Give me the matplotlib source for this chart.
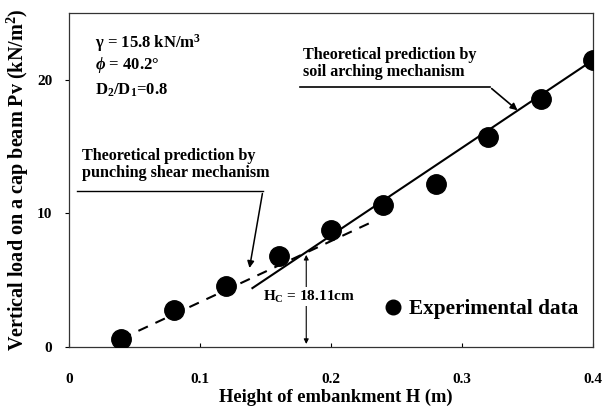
import matplotlib.pyplot as plt
from matplotlib.lines import Line2D

# experimental data
height = [0.04, 0.08, 0.12, 0.16, 0.20, 0.24, 0.28, 0.32, 0.36, 0.40]
load = [0.55, 2.75, 4.55, 6.8, 8.75, 10.65, 12.2, 15.7, 18.6, 21.5]

# theoretical lines
arch_h = [0.14, 0.40]
arch_p = [4.4, 21.5]
punch_h = [0.04, 0.23]
punch_p = [0.6, 9.3]

hc = 0.1811
hc_p = 7.1

xticks = [0, 0.1, 0.2, 0.3, 0.4]
xticklabels = ["0", "0.1", "0.2", "0.3", "0.4"]
yticks = [0, 10, 20]

plt.rcParams["font.family"] = ["Liberation Serif", "DejaVu Serif"]
plt.rcParams["font.weight"] = "bold"
plt.rcParams["mathtext.fontset"] = "custom"
plt.rcParams["mathtext.rm"] = "Liberation Serif:bold"
plt.rcParams["mathtext.it"] = "Liberation Serif:bold:italic"
plt.rcParams["mathtext.bf"] = "Liberation Serif:bold"

fig = plt.figure(figsize=(6.14, 4.07), dpi=100)
ax = fig.add_axes([0.1124, 0.148, 0.8534, 0.819])

ax.plot(arch_h, arch_p, color="black", lw=1.5)
ax.plot(punch_h, punch_p, color="black", lw=1.5, ls=(0, (5, 4)))
ax.plot(height, load, "o", color="black", ms=14, zorder=5)

ax.set_xlim(0, 0.4)
ax.set_ylim(0, 25)
ax.set_xticks(xticks)
ax.set_xticklabels(xticklabels)
ax.set_yticks(yticks)
ax.tick_params(axis="x", direction="in", length=3, pad=19, labelsize=11)
ax.tick_params(axis="y", direction="out", length=3, pad=9, labelsize=11)
for s in ax.spines.values():
    s.set_linewidth(0.9)
    s.set_color("#333333")

ax.set_xlabel("Height of embankment H (m)", fontsize=13.3, fontweight="bold")
ax.xaxis.set_label_coords(0.51, -0.125)
ax.set_ylabel("Vertical load on a cap beam Pv (kN/m$^2$)", fontsize=14.5, fontweight="bold")
ax.yaxis.set_label_coords(-0.072, 0.5)

# parameter box
ax.text(0.02, 22.8, "γ = 15.8 kN/m$^3$", fontsize=12, va="center")
ax.text(0.02, 21.1, "$\\phi$ = 40.2°", fontsize=12, va="center")
ax.text(0.02, 19.25, "D$_2$/D$_1$=0.8", fontsize=12, va="center")

# annotations
ax.text(0.179, 21.25, "Theoretical prediction by\nsoil arching mechanism",
        fontsize=11.6, linespacing=1.1, va="center")
ax.plot([0.176, 0.321], [19.5, 19.5], color="black", lw=1.2)
ax.annotate("", xy=(0.344, 17.6), xytext=(0.321, 19.5),
            arrowprops=dict(arrowstyle="-|>", color="black", lw=1.2, mutation_scale=10))

ax.text(0.01, 13.65, "Theoretical prediction by\npunching shear mechanism",
        fontsize=11.6, linespacing=1.1, va="center")
ax.plot([0.006, 0.148], [11.7, 11.7], color="black", lw=1)
ax.annotate("", xy=(0.1374, 5.7), xytext=(0.148, 11.7),
            arrowprops=dict(arrowstyle="-|>", color="black", lw=1.1, mutation_scale=10))

# critical height
ax.annotate("", xy=(hc, 0), xytext=(hc, hc_p),
            arrowprops=dict(arrowstyle="<|-|>", color="black", lw=0.8, mutation_scale=7))
ax.text(hc + 0.002, 3.75, "H$_\\mathrm{C}$ = 18.11cm", fontsize=11, ha="center", va="center",
        bbox=dict(facecolor="white", edgecolor="none", pad=1))

handle = Line2D([], [], marker="o", color="black", ls="none", ms=10.5)
ax.legend([handle], ["Experimental data"], loc="center left", bbox_to_anchor=(0.594, 0.113),
          frameon=False, handletextpad=0.15, handlelength=1.2, borderpad=0, borderaxespad=0,
          prop=dict(family="Liberation Serif", weight="bold", size=15.3))

fig.savefig("out.png", dpi=100)
